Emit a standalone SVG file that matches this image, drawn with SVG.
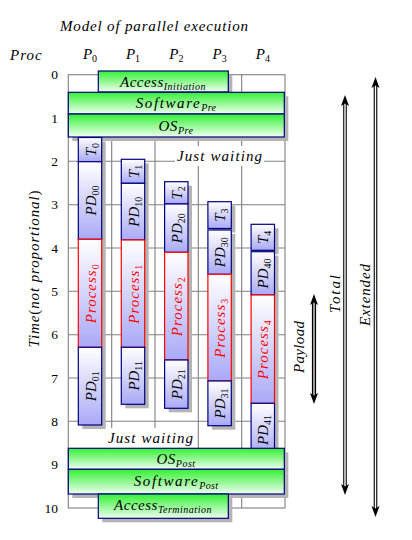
<svg xmlns="http://www.w3.org/2000/svg" width="412" height="540" viewBox="0 0 412 540">
<defs>
<linearGradient id="blue" x1="0" y1="0" x2="0" y2="1"><stop offset="0" stop-color="#ffffff"/><stop offset="1" stop-color="#a9a9f7"/></linearGradient>
<linearGradient id="green" x1="0" y1="0" x2="0" y2="1"><stop offset="0" stop-color="#33f033"/><stop offset="1" stop-color="#f0fff0"/></linearGradient>
<style>
.g{stroke:#808080;stroke-width:1.1;fill:none}
.bx{fill:url(#blue);stroke:#000080;stroke-width:1.2}
.pr{fill:url(#blue);stroke:#ff0000;stroke-width:1.2}
.gr{fill:url(#green);stroke:#000080;stroke-width:1.2}
.sh{fill:#b4b4b4}
.t{font-family:"Liberation Serif","DejaVu Serif",serif;font-style:italic;font-size:15px;fill:#000}
.r{fill:#ff0000}
.n{font-family:"Liberation Serif","DejaVu Serif",serif;font-size:13.5px;fill:#000}
.s{font-style:normal;font-size:10px}
.si{font-size:10px}
.ah{fill:#000}
</style>
</defs>
<rect width="412" height="540" fill="#fff"/>
<g id="title">
<text class="t" x="154" y="31" text-anchor="middle" textLength="188" lengthAdjust="spacing">Model of parallel execution</text>
<text class="t" x="10" y="60" letter-spacing="1">Proc</text>
<text class="t" x="90" y="59" text-anchor="middle">P<tspan class="s" dy="3">0</tspan></text>
<text class="t" x="133" y="59" text-anchor="middle">P<tspan class="s" dy="3">1</tspan></text>
<text class="t" x="176.3" y="59" text-anchor="middle">P<tspan class="s" dy="3">2</tspan></text>
<text class="t" x="219.6" y="59" text-anchor="middle">P<tspan class="s" dy="3">3</tspan></text>
<text class="t" x="262.8" y="59" text-anchor="middle">P<tspan class="s" dy="3">4</tspan></text>
</g>
<g id="axis">
<text class="n" text-anchor="end" x="58" y="79.2">0</text>
<text class="n" text-anchor="end" x="58" y="122.5">1</text>
<text class="n" text-anchor="end" x="58" y="165.8">2</text>
<text class="n" text-anchor="end" x="58" y="209.2">3</text>
<text class="n" text-anchor="end" x="58" y="252.5">4</text>
<text class="n" text-anchor="end" x="58" y="295.8">5</text>
<text class="n" text-anchor="end" x="58" y="339.2">6</text>
<text class="n" text-anchor="end" x="58" y="382.5">7</text>
<text class="n" text-anchor="end" x="58" y="425.8">8</text>
<text class="n" text-anchor="end" x="58" y="469.2">9</text>
<text class="n" text-anchor="end" x="58" y="512.5">10</text>
<text class="t" transform="translate(39,269) rotate(-90)" text-anchor="middle" textLength="157" lengthAdjust="spacing">Time<tspan font-style="normal">(</tspan>not proportional<tspan font-style="normal">)</tspan></text>
</g>
<g id="grid">
<rect class="g" x="68.3" y="74.7" width="216.7" height="433.3"/>
<path class="g" d="M111.7 74.7V508M155 74.7V508M198.3 74.7V508M241.7 74.7V508M68.3 118H285M68.3 161.3H285M68.3 204.7H285M68.3 248H285M68.3 291.3H285M68.3 334.7H285M68.3 378H285M68.3 421.3H285M68.3 464.7H285"/>
</g>
<g id="wait1">
<rect x="175" y="146" width="89" height="20" fill="#fff"/>
<text class="t" x="219.5" y="161" text-anchor="middle" textLength="85" lengthAdjust="spacing">Just waiting</text>
</g>
<g id="wait2">
<rect x="106" y="428" width="90" height="20" fill="#fff"/>
<text class="t" x="150.5" y="443" text-anchor="middle" textLength="85" lengthAdjust="spacing">Just waiting</text>
</g>
<g id="access-init">
<rect class="sh" x="102.3" y="75" width="130" height="21"/>
<rect class="gr" x="98.3" y="71" width="130" height="21"/>
<text class="t" x="163" y="86.5" text-anchor="middle" letter-spacing="0.5">Access<tspan class="si" dy="3">Initiation</tspan></text>
</g>
<g id="software-pre">
<rect class="sh" x="72.3" y="96.3" width="216" height="21.7"/>
<rect class="gr" x="68.3" y="92.3" width="216" height="21.7"/>
<text class="t" x="176" y="108" text-anchor="middle" letter-spacing="1.6">Software<tspan class="si" dy="3" letter-spacing="0.3">Pre</tspan></text>
</g>
<g id="os-pre">
<rect class="sh" x="72.3" y="118" width="216" height="23"/>
<rect class="gr" x="68.3" y="114" width="216" height="23"/>
<text class="t" x="176" y="130.5" text-anchor="middle" letter-spacing="0.5">OS<tspan class="si" dy="3">Pre</tspan></text>
</g>
<g id="p0">
<rect class="sh" x="82.3" y="141.5" width="23.4" height="287.5"/>
<rect class="bx" x="78.3" y="137.5" width="23.4" height="24.2"/>
<rect class="bx" x="78.3" y="161.7" width="23.4" height="77.6"/>
<rect class="pr" x="78.3" y="239.3" width="23.4" height="108"/>
<rect class="bx" x="78.3" y="347.3" width="23.4" height="77.7"/>
<text class="t" transform="translate(95.5,149.6) rotate(-90)" text-anchor="middle">T<tspan class="s" dy="3">0</tspan></text>
<text class="t" transform="translate(95.5,200.5) rotate(-90)" text-anchor="middle">PD<tspan class="s" dy="3">00</tspan></text>
<text class="t r" transform="translate(95.5,293.3) rotate(-90)" text-anchor="middle" letter-spacing="1">Process<tspan class="s" dy="3">0</tspan></text>
<text class="t" transform="translate(95.5,386.2) rotate(-90)" text-anchor="middle">PD<tspan class="s" dy="3">01</tspan></text>
</g>
<g id="p1">
<rect class="sh" x="125.3" y="163.3" width="23.4" height="245"/>
<rect class="bx" x="121.3" y="159.3" width="23.4" height="24"/>
<rect class="bx" x="121.3" y="183.3" width="23.4" height="56.7"/>
<rect class="pr" x="121.3" y="240" width="23.4" height="107.3"/>
<rect class="bx" x="121.3" y="347.3" width="23.4" height="57"/>
<text class="t" transform="translate(138.5,171.3) rotate(-90)" text-anchor="middle">T<tspan class="s" dy="3">1</tspan></text>
<text class="t" transform="translate(138.5,211.7) rotate(-90)" text-anchor="middle">PD<tspan class="s" dy="3">10</tspan></text>
<text class="t r" transform="translate(138.5,293.7) rotate(-90)" text-anchor="middle" letter-spacing="1">Process<tspan class="s" dy="3">1</tspan></text>
<text class="t" transform="translate(138.5,375.8) rotate(-90)" text-anchor="middle">PD<tspan class="s" dy="3">11</tspan></text>
</g>
<g id="p2">
<rect class="sh" x="168.6" y="185.7" width="23.4" height="226.6"/>
<rect class="bx" x="164.6" y="181.7" width="23.4" height="22.3"/>
<rect class="bx" x="164.6" y="204" width="23.4" height="48.3"/>
<rect class="pr" x="164.6" y="252.3" width="23.4" height="107.7"/>
<rect class="bx" x="164.6" y="360" width="23.4" height="48.3"/>
<text class="t" transform="translate(181.8,192.9) rotate(-90)" text-anchor="middle">T<tspan class="s" dy="3">2</tspan></text>
<text class="t" transform="translate(181.8,228.2) rotate(-90)" text-anchor="middle">PD<tspan class="s" dy="3">20</tspan></text>
<text class="t r" transform="translate(181.8,306.2) rotate(-90)" text-anchor="middle" letter-spacing="1">Process<tspan class="s" dy="3">2</tspan></text>
<text class="t" transform="translate(181.8,384.2) rotate(-90)" text-anchor="middle">PD<tspan class="s" dy="3">21</tspan></text>
</g>
<g id="p3">
<rect class="sh" x="211.9" y="205.7" width="23.4" height="26.8"/>
<rect class="sh" x="211.9" y="234" width="23.4" height="195.7"/>
<rect class="bx" x="207.9" y="201.7" width="23.4" height="26.8"/>
<rect class="bx" x="207.9" y="230" width="23.4" height="44.3"/>
<rect class="pr" x="207.9" y="274.3" width="23.4" height="106.7"/>
<rect class="bx" x="207.9" y="381" width="23.4" height="44.7"/>
<text class="t" transform="translate(225.1,215.1) rotate(-90)" text-anchor="middle">T<tspan class="s" dy="3">3</tspan></text>
<text class="t" transform="translate(225.1,252.2) rotate(-90)" text-anchor="middle">PD<tspan class="s" dy="3">30</tspan></text>
<text class="t r" transform="translate(225.1,327.7) rotate(-90)" text-anchor="middle" letter-spacing="1">Process<tspan class="s" dy="3">3</tspan></text>
<text class="t" transform="translate(225.1,403.4) rotate(-90)" text-anchor="middle">PD<tspan class="s" dy="3">31</tspan></text>
</g>
<g id="p4">
<rect class="sh" x="255.1" y="228.3" width="23.4" height="26"/>
<rect class="sh" x="255.1" y="255.7" width="23.4" height="200"/>
<rect class="bx" x="251.1" y="224.3" width="23.4" height="26"/>
<rect class="bx" x="251.1" y="251.7" width="23.4" height="43.3"/>
<rect class="pr" x="251.1" y="295" width="23.4" height="108.3"/>
<rect class="bx" x="251.1" y="403.3" width="23.4" height="50"/>
<text class="t" transform="translate(268.3,237.3) rotate(-90)" text-anchor="middle">T<tspan class="s" dy="3">4</tspan></text>
<text class="t" transform="translate(268.3,273.4) rotate(-90)" text-anchor="middle">PD<tspan class="s" dy="3">40</tspan></text>
<text class="t r" transform="translate(268.3,349.2) rotate(-90)" text-anchor="middle" letter-spacing="1">Process<tspan class="s" dy="3">4</tspan></text>
<text class="t" transform="translate(268.3,430) rotate(-90)" text-anchor="middle">PD<tspan class="s" dy="3">41</tspan></text>
</g>
<g id="os-post">
<rect class="sh" x="72.3" y="452.3" width="216" height="21"/>
<rect class="gr" x="68.3" y="448.3" width="216" height="21"/>
<text class="t" x="176" y="464" text-anchor="middle" letter-spacing="0.5">OS<tspan class="si" dy="3">Post</tspan></text>
</g>
<g id="software-post">
<rect class="sh" x="72.3" y="473.3" width="216" height="24.7"/>
<rect class="gr" x="68.3" y="469.3" width="216" height="24.7"/>
<text class="t" x="176" y="486" text-anchor="middle" letter-spacing="1.6">Software<tspan class="si" dy="3" letter-spacing="0.3">Post</tspan></text>
</g>
<g id="access-term">
<rect class="sh" x="102.3" y="498" width="130" height="24.3"/>
<rect class="gr" x="98.3" y="494" width="130" height="24.3"/>
<text class="t" x="163" y="510" text-anchor="middle" letter-spacing="0.5">Access<tspan class="si" dy="3">Termination</tspan></text>
</g>
<g id="connectors">
<path d="M314 302V396" stroke="#000" stroke-width="4.2"/>
<path d="M314 302V396" stroke="#fff" stroke-width="1.2"/>
<path class="ah" d="M314 294L318 305L314 302.5L310 305Z"/>
<path class="ah" d="M314 404L318 393L314 395.5L310 393Z"/>
<path d="M345 103V487" stroke="#000" stroke-width="3.6"/>
<path d="M345 103V487" stroke="#fff" stroke-width="1.4"/>
<path class="ah" d="M345 95L349 106L345 103.5L341 106Z"/>
<path class="ah" d="M345 495L349 484L345 486.5L341 484Z"/>
<path d="M375.5 85V509" stroke="#000" stroke-width="3.6"/>
<path d="M375.5 85V509" stroke="#fff" stroke-width="1.4"/>
<path class="ah" d="M375.5 77L379.5 88L375.5 85.5L371.5 88Z"/>
<path class="ah" d="M375.5 517L379.5 506L375.5 508.5L371.5 506Z"/>
</g>
<g id="labels">
<text class="t" transform="translate(304,347) rotate(-90)" text-anchor="middle" textLength="52" lengthAdjust="spacing">Payload</text>
<text class="t" transform="translate(340,294) rotate(-90)" text-anchor="middle" textLength="38" lengthAdjust="spacing">Total</text>
<text class="t" transform="translate(369.5,295) rotate(-90)" text-anchor="middle" textLength="62" lengthAdjust="spacing">Extended</text>
</g>
</svg>
